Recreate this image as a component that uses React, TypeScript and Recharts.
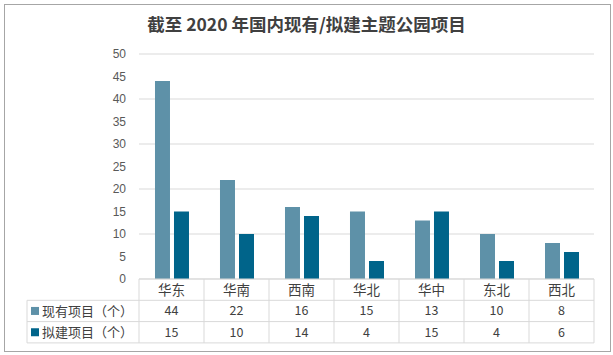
import { BarChart, Bar, XAxis, YAxis, CartesianGrid } from "recharts";

const regions = ["华东", "华南", "西南", "华北", "华中", "东北", "西北"];
const existing = [44, 22, 16, 15, 13, 10, 8];
const planned = [15, 10, 14, 4, 15, 4, 6];
const yTicks = [0, 5, 10, 15, 20, 25, 30, 35, 40, 45, 50];

const seriesNames = ["现有项目（个）", "拟建项目（个）"];
const seriesColors = ["#5e91a8", "#00648a"];

const data = regions.map((name, i) => ({ name, existing: existing[i], planned: planned[i] }));

const BAND = 65;
const ROW = 21.3;
const TABLE_LEFT = 27;
const LINE = "#d9d9d9";
const FONT = "'Noto Sans CJK SC', 'Liberation Sans', sans-serif";

// each x tick draws its whole table column (category + both values)
function TableTick(props: any) {
  const { x, y, payload } = props;
  const i = payload.index;
  const left = x - BAND / 2;
  const right = x + BAND / 2;
  const rows = [y, y + ROW, y + ROW * 2, y + ROW * 3];
  const vals = [existing[i], planned[i]];
  return (
    <g>
      {rows.slice(1).map((ry, k) => (
        <line key={k} x1={left} x2={right} y1={ry} y2={ry} stroke={LINE} />
      ))}
      <line x1={right} x2={right} y1={rows[0]} y2={rows[3]} stroke={LINE} />
      <text x={x} y={rows[0] + ROW / 2 + 5} textAnchor="middle" fontSize={13.5} fill="#404040" fontFamily={FONT}>
        {regions[i]}
      </text>
      {vals.map((v, k) => (
        <text key={k} x={x} y={rows[k + 1] + ROW / 2 + 4.5} textAnchor="middle" fontSize={12.5} fill="#404040" fontFamily={FONT}>
          {v}
        </text>
      ))}
      {i === 0 && (
        <g>
          <line x1={left} x2={left} y1={rows[0]} y2={rows[3]} stroke={LINE} />
          <line x1={TABLE_LEFT} x2={TABLE_LEFT} y1={rows[1]} y2={rows[3]} stroke={LINE} />
          {rows.slice(1).map((ry, k) => (
            <line key={k} x1={TABLE_LEFT} x2={left} y1={ry} y2={ry} stroke={LINE} />
          ))}
          {seriesNames.map((s, k) => (
            <g key={s}>
              <rect x={31} y={rows[k + 1] + ROW / 2 - 4} width={8} height={8} fill={seriesColors[k]} />
              <text x={42} y={rows[k + 1] + ROW / 2 + 5} fontSize={13} fill="#404040" fontFamily={FONT}>
                {s}
              </text>
            </g>
          ))}
        </g>
      )}
    </g>
  );
}

export default function App() {
  return (
    <div style={{ position: "absolute", left: 0, top: 0, width: 613, height: 355, background: "#fff" }}>
      <div
        style={{
          position: "absolute",
          left: 4,
          top: 4,
          width: 605,
          height: 346,
          border: "1px solid #a6a6a6",
        }}
      />
      <div
        style={{
          position: "absolute",
          left: 0,
          top: 12,
          width: 613,
          textAlign: "center",
          fontFamily: FONT,
          fontWeight: 700,
          fontSize: 17.5,
          color: "#404040",
          lineHeight: "24px",
        }}
      >
        截至 2020 年国内现有/拟建主题公园项目
      </div>
      <div style={{ position: "absolute", left: 0, top: 0 }}>
        <BarChart
          width={613}
          height={355}
          data={data}
          margin={{ top: 54, right: 19, bottom: 12, left: 99 }}
          barCategoryGap="24.6%"
          barGap={4}
        >
          <CartesianGrid vertical={false} stroke={LINE} />
          <XAxis
            dataKey="name"
            height={64}
            interval={0}
            tickLine={false}
            tickSize={0}
            tickMargin={0}
            axisLine={{ stroke: LINE }}
            tick={<TableTick />}
          />
          <YAxis
            width={40}
            domain={[0, 50]}
            ticks={yTicks}
            axisLine={false}
            tickLine={false}
            tickSize={0}
            tickMargin={13}
            tick={{ fill: "#595959", fontSize: 12, fontFamily: "'Liberation Sans', sans-serif" }}
          />
          <Bar dataKey="existing" fill={seriesColors[0]} isAnimationActive={false} />
          <Bar dataKey="planned" fill={seriesColors[1]} isAnimationActive={false} />
        </BarChart>
      </div>
    </div>
  );
}
